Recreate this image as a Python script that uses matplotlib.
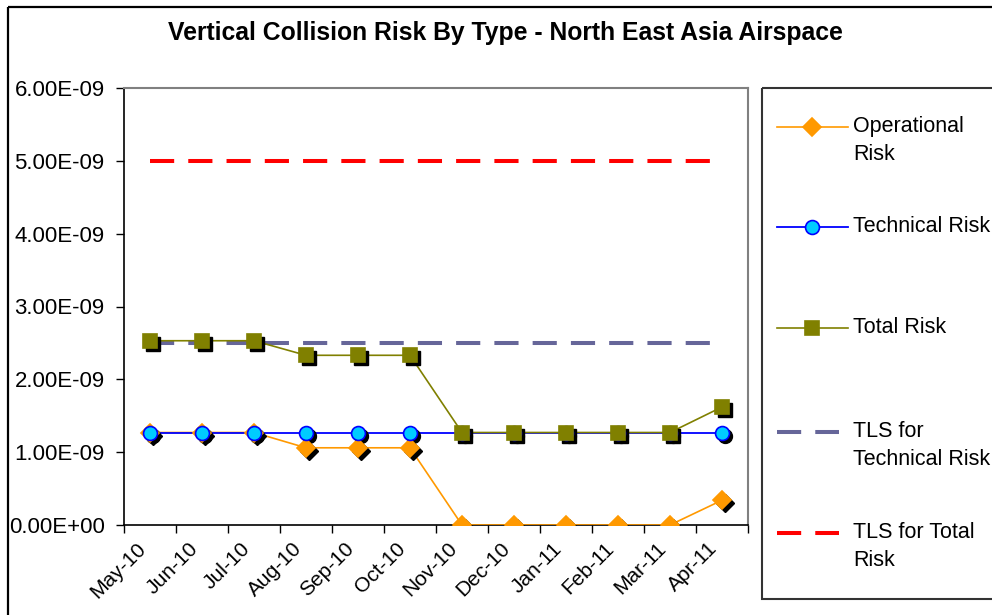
import numpy as np
import matplotlib.pyplot as plt
from matplotlib.transforms import offset_copy
from matplotlib.ticker import FixedLocator, FuncFormatter
from matplotlib.patches import Rectangle

plt.rcParams['font.family'] = ['Liberation Sans', 'DejaVu Sans']

months = ['May-10', 'Jun-10', 'Jul-10', 'Aug-10', 'Sep-10', 'Oct-10',
          'Nov-10', 'Dec-10', 'Jan-11', 'Feb-11', 'Mar-11', 'Apr-11']
operational = [1.27e-9, 1.27e-9, 1.27e-9, 1.06e-9, 1.06e-9, 1.06e-9,
               0.0, 0.0, 0.0, 0.0, 0.0, 0.34e-9]
technical = [1.27e-9] * 12
total = [2.53e-9, 2.53e-9, 2.53e-9, 2.33e-9, 2.33e-9, 2.33e-9,
         1.27e-9, 1.27e-9, 1.27e-9, 1.27e-9, 1.27e-9, 1.62e-9]
tls_technical = [2.5e-9] * 12
tls_total = [5.0e-9] * 12

W, H = 992, 615
fig = plt.figure(figsize=(W / 100, H / 100), dpi=100)

# background layer in pixel coordinates: outer frame + legend box
bg = fig.add_axes([0, 0, 1, 1], zorder=0)
bg.set_xlim(0, W)
bg.set_ylim(H, 0)
bg.axis('off')
bg.add_patch(Rectangle((8, 7), W, H, fill=False, lw=1.6, ec='black'))

ax = fig.add_axes([124 / W, 1 - 525 / H, (748 - 124) / W, (525 - 88) / H], zorder=1)
x = np.arange(len(months))

# series styles
styles = [
    dict(label='Operational\nRisk', data=operational, color='#FF9900', marker='D',
         mfc='#FF9900', mec='#FF9900', ms=9.5, lw=1.2),
    dict(label='Technical Risk', data=technical, color='#0000FF', marker='o',
         mfc='#00CCFF', mec='#0000FF', ms=10, lw=1.3),
    dict(label='Total Risk', data=total, color='#808000', marker='s',
         mfc='#808000', mec='#808000', ms=10, lw=1.2),
]
dash_styles = [
    dict(label='TLS for\nTechnical Risk', data=tls_technical, color='#666699'),
    dict(label='TLS for Total\nRisk', data=tls_total, color='#FF0000'),
]

for s in dash_styles:
    ax.plot(x, s['data'], color=s['color'], lw=2.9, dashes=(6, 3.5), zorder=2)

shadow = offset_copy(ax.transData, fig=fig, x=3, y=-3, units='dots')
for s in styles:
    ax.plot(x, s['data'], color=s['color'], lw=s['lw'], zorder=3)
for s in styles:
    ax.plot(x, s['data'], ls='none', marker=s['marker'], ms=s['ms'], mfc='black',
            mec='black', transform=shadow, zorder=4)
    ax.plot(x, s['data'], ls='none', marker=s['marker'], ms=s['ms'], mfc=s['mfc'],
            mec=s['mec'], mew=1.2, zorder=5)

ax.set_xlim(-0.5, len(months) - 0.5)
ax.set_ylim(0, 6e-9)
ax.set_yticks(np.arange(0, 6.01e-9, 1e-9))
ax.yaxis.set_major_formatter(FuncFormatter(lambda v, p: f'{v:.2E}'))
ax.xaxis.set_major_locator(FixedLocator(np.arange(-0.5, len(months), 1)))
ax.xaxis.set_major_formatter(FuncFormatter(lambda v, p: ''))
# rotated month labels sit a little left of each category centre
ax.set_xticks(x - 0.27, months, minor=True, rotation=45, ha='right', va='top',
              rotation_mode='anchor', fontsize=15)
ax.tick_params(axis='x', which='minor', length=0, pad=10)
ax.tick_params(axis='x', which='major', length=6, width=1, direction='out')
ax.tick_params(axis='y', length=6, width=1, direction='out', labelsize=16, pad=8)
for side in ['top', 'right']:
    ax.spines[side].set_color('#808080')
    ax.spines[side].set_linewidth(1.5)
for side in ['left', 'bottom']:
    ax.spines[side].set_color('black')
    ax.spines[side].set_linewidth(1.2)

fig.text(505 / W, 1 - 33 / H, 'Vertical Collision Risk By Type - North East Asia Airspace',
         ha='center', va='center', fontsize=17.8, fontweight='bold')

# legend drawn in the pixel layer
bg.add_patch(Rectangle((762, 88), 300, 599 - 88, fill=False, lw=1.5, ec='#333333'))
rows = [127, 227, 328, 432, 533]
for s, y in zip(styles, rows[:3]):
    bg.plot([777, 848], [y, y], color=s['color'], lw=s['lw'])
    bg.plot([812], [y], ls='none', marker=s['marker'], ms=s['ms'],
            mfc=s['mfc'], mec=s['mec'], mew=1.2)
    bg.text(853, y - 11, s['label'], fontsize=15.5, ha='left', va='top', linespacing=1.45)
for s, y in zip(dash_styles, rows[3:]):
    bg.plot([777, 839], [y, y], color=s['color'], lw=2.9, dashes=(6, 3.5))
    bg.text(853, y - 11, s['label'], fontsize=15.5, ha='left', va='top', linespacing=1.45)

fig.savefig('out.png', dpi=100)
